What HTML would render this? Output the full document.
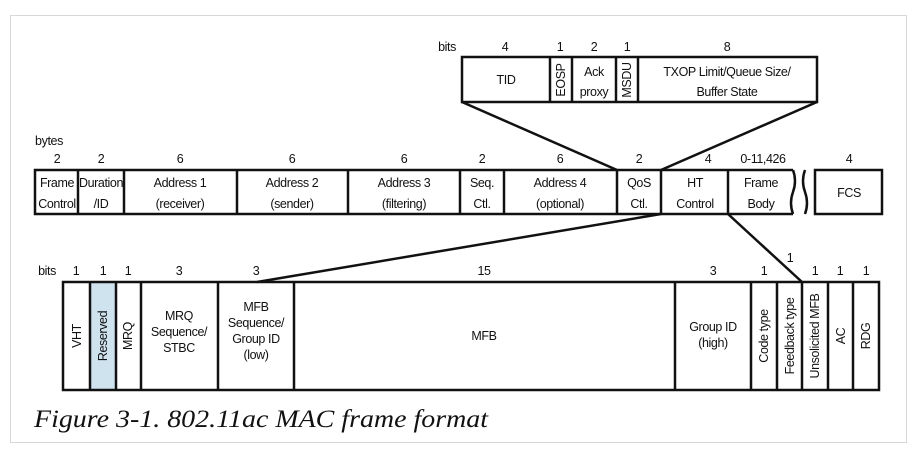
<!DOCTYPE html>
<html><head><meta charset="utf-8"><style>
html,body{margin:0;padding:0;background:#fff;width:917px;height:460px;overflow:hidden}
svg text{font-family:"Liberation Sans",sans-serif;font-size:12.5px;letter-spacing:-0.4px;fill:#111}
</style></head><body>
<svg width="917" height="460" viewBox="0 0 917 460" xmlns="http://www.w3.org/2000/svg">
<rect x="10.5" y="15.5" width="896" height="427" fill="#fff" stroke="#d8d8d8" stroke-width="1"/>
<g fill="none" stroke="#111" stroke-width="2.5">
<rect x="462" y="57" width="355" height="45" fill="#fff"/>
<line x1="550" y1="57" x2="550" y2="102"/><line x1="572" y1="57" x2="572" y2="102"/>
<line x1="616" y1="57" x2="616" y2="102"/><line x1="638" y1="57" x2="638" y2="102"/>
<line x1="462" y1="102" x2="617" y2="170"/><line x1="817" y1="102" x2="661" y2="170"/>
<path d="M793 170 H35 V214 H793"/>
<path d="M793 170 q4 11 0 22 q-4 11 0 22"/>
<path d="M805 170 q-4 11 0 22 q4 11 0 22"/>
<rect x="815" y="170" width="67" height="44"/>
<line x1="78" y1="170" x2="78" y2="214"/><line x1="124" y1="170" x2="124" y2="214"/>
<line x1="237" y1="170" x2="237" y2="214"/><line x1="348" y1="170" x2="348" y2="214"/>
<line x1="460" y1="170" x2="460" y2="214"/><line x1="504" y1="170" x2="504" y2="214"/>
<line x1="617" y1="170" x2="617" y2="214"/><line x1="661" y1="170" x2="661" y2="214"/>
<line x1="728" y1="170" x2="728" y2="214"/>
<line x1="661" y1="214" x2="257" y2="282"/><line x1="728" y1="214" x2="802" y2="282"/>
<rect x="90" y="282" width="26" height="108" fill="#cfe3ef" stroke="none"/>
<rect x="63" y="282" width="816" height="108"/>
<line x1="90" y1="282" x2="90" y2="390"/><line x1="116" y1="282" x2="116" y2="390"/>
<line x1="141" y1="282" x2="141" y2="390"/><line x1="218" y1="282" x2="218" y2="390"/>
<line x1="294" y1="282" x2="294" y2="390"/><line x1="675" y1="282" x2="675" y2="390"/>
<line x1="751" y1="282" x2="751" y2="390"/><line x1="777" y1="282" x2="777" y2="390"/>
<line x1="802" y1="282" x2="802" y2="390"/><line x1="828" y1="282" x2="828" y2="390"/>
<line x1="853" y1="282" x2="853" y2="390"/>
</g>
<g text-anchor="middle">
<text x="447" y="51">bits</text>
<text x="505" y="51">4</text><text x="560" y="51">1</text><text x="594" y="51">2</text><text x="627" y="51">1</text><text x="727" y="51">8</text>
<text x="506" y="84">TID</text>
<text x="594" y="76">Ack</text><text x="594" y="96">proxy</text>
<text x="727" y="76">TXOP Limit/Queue Size/</text><text x="727" y="96">Buffer State</text>
<text transform="translate(565,80) rotate(-90)" font-size="11">EOSP</text>
<text transform="translate(631,80) rotate(-90)" font-size="11">MSDU</text>
<text x="49" y="145">bytes</text>
<text x="57" y="163">2</text><text x="101" y="163">2</text><text x="180" y="163">6</text><text x="292" y="163">6</text><text x="404" y="163">6</text><text x="482" y="163">2</text><text x="560" y="163">6</text><text x="639" y="163">2</text><text x="708" y="163">4</text><text x="763" y="163">0-11,426</text><text x="849" y="163">4</text>
<text x="57" y="187">Frame</text><text x="57" y="208">Control</text>
<text x="101" y="187" font-size="11.5">Duration</text><text x="101" y="208">/ID</text>
<text x="180" y="187">Address 1</text><text x="180" y="208">(receiver)</text>
<text x="292" y="187">Address 2</text><text x="292" y="208">(sender)</text>
<text x="404" y="187">Address 3</text><text x="404" y="208">(filtering)</text>
<text x="482" y="187">Seq.</text><text x="482" y="208">Ctl.</text>
<text x="560" y="187">Address 4</text><text x="560" y="208">(optional)</text>
<text x="639" y="187">QoS</text><text x="639" y="208">Ctl.</text>
<text x="695" y="187">HT</text><text x="695" y="208">Control</text>
<text x="761" y="187">Frame</text><text x="761" y="208">Body</text>
<text x="849" y="197">FCS</text>
<text x="47" y="275">bits</text>
<text x="76" y="275">1</text><text x="103" y="275">1</text><text x="128" y="275">1</text><text x="179" y="275">3</text><text x="256" y="275">3</text><text x="484" y="275">15</text><text x="713" y="275">3</text><text x="764" y="275">1</text><text x="790" y="262">1</text><text x="815" y="275">1</text><text x="840" y="275">1</text><text x="866" y="275">1</text>
<text x="179" y="320">MRQ</text><text x="179" y="336">Sequence/</text><text x="179" y="352">STBC</text>
<text x="256" y="311">MFB</text><text x="256" y="327">Sequence/</text><text x="256" y="343">Group ID</text><text x="256" y="359">(low)</text>
<text x="484" y="340">MFB</text>
<text x="713" y="331">Group ID</text><text x="713" y="347">(high)</text>
<text transform="translate(81,336) rotate(-90)">VHT</text>
<text transform="translate(107,336) rotate(-90)">Reserved</text>
<text transform="translate(132,336) rotate(-90)">MRQ</text>
<text transform="translate(768,336) rotate(-90)">Code type</text>
<text transform="translate(794,336) rotate(-90)">Feedback type</text>
<text transform="translate(819,336) rotate(-90)">Unsolicited MFB</text>
<text transform="translate(845,336) rotate(-90)">AC</text>
<text transform="translate(870,336) rotate(-90)">RDG</text>
</g>
<text x="34" y="427" textLength="454" lengthAdjust="spacingAndGlyphs" style="font-family:'Liberation Serif',serif;font-style:italic;font-size:25px;letter-spacing:0">Figure 3-1. 802.11ac MAC frame format</text>
</svg>
</body></html>
